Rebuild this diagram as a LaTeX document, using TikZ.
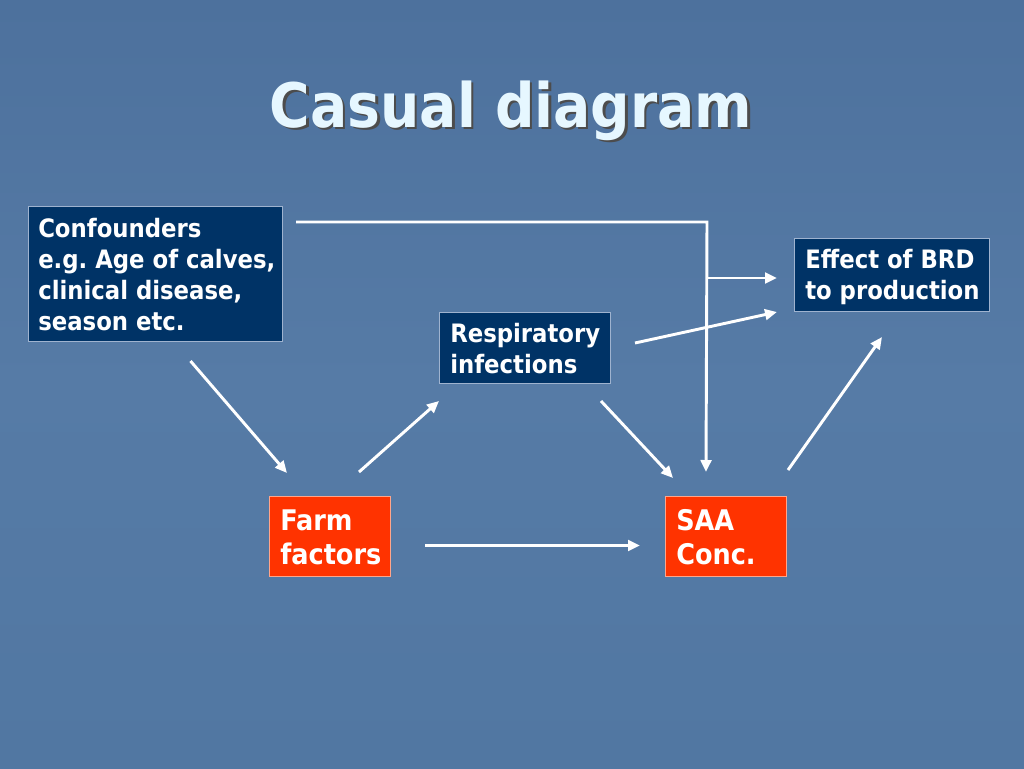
\documentclass[tikz,border=0pt]{standalone}
\usepackage{fontspec}
\setmainfont{DejaVu Sans Condensed}
\usetikzlibrary{calc,arrows.meta}
\frenchspacing
\definecolor{bgblue}{HTML}{567BA6}
\definecolor{bgtop}{HTML}{4D719D}
\definecolor{bgbot}{HTML}{5177A2}
\definecolor{navy}{HTML}{003366}
\definecolor{navyedge}{HTML}{9FB3CF}
\definecolor{orangered}{HTML}{FF3300}
\definecolor{orangeedge}{HTML}{FFA58A}
\definecolor{titlecol}{HTML}{E6F7FF}
\tikzset{
  navybox/.style={draw=navyedge, line width=0.75pt, fill=navy, anchor=north west, inner sep=0pt},
  redbox/.style={draw=orangeedge, line width=0.75pt, fill=orangered, anchor=north west, inner sep=0pt},
  navytext/.style={text=white, anchor=west, align=left, inner sep=0pt,
    font=\fontsize{19}{23.25}\selectfont\bfseries},
  redtext/.style={text=white, anchor=west, align=left, inner sep=0pt,
    font=\fontsize{21.3}{25.5}\selectfont\bfseries},
  link/.style={draw=white, line width=2.2pt, -{Triangle[length=9pt,width=8pt]}}
}
\newcommand{\shadowed}[1]{\makebox[0pt][l]{\hspace{1.9pt}\raisebox{-1.9pt}{\color{black!70}#1}}#1}
\begin{document}
\begin{tikzpicture}[x=0.75pt,y=-0.75pt]
\useasboundingbox (0,0) rectangle (1024,768);
\shade[top color=bgtop, bottom color=bgbot, middle color=bgblue] (0,0) rectangle (1024,768);
% title
\node[text=titlecol, font=\fontsize{46}{56}\selectfont\bfseries] (title) at (511,112) {\shadowed{Casual diagram}};
% boxes
\node[navybox, minimum width=254*0.75pt, minimum height=135*0.75pt] (conf) at (28,206) {};
\node[navytext] (conft) at ($(conf.west)+(10,1)$) {Confounders\\e.g. Age of calves,\\clinical disease,\\season etc.};
\node[navybox, minimum width=171*0.75pt, minimum height=71*0.75pt] (resp) at (439,312) {};
\node[navytext] (respt) at ($(resp.west)+(11,1)$) {Respiratory\\infections};
\node[navybox, minimum width=195*0.75pt, minimum height=73*0.75pt] (eff) at (794,238) {};
\node[navytext] (efft) at ($(eff.west)+(11,2)$) {Effect of BRD\\to production};
\node[redbox, minimum width=121*0.75pt, minimum height=80*0.75pt] (farm) at (269,496) {};
\node[redtext] (farmt) at ($(farm.west)+(11,1)$) {Farm\\factors};
\node[redbox, minimum width=121*0.75pt, minimum height=80*0.75pt] (saa) at (665,496) {};
\node[redtext] (saat) at ($(saa.west)+(11,1)$) {SAA\\Conc.};
% connectors
\draw[link] ($(conf.south)+(35,19)$) -- ($(farm.north west)+(18,-23)$);
\draw[link] ($(farm.north west)+(90,-24)$) -- ($(resp.south west)+(0,17)$);
\draw[link] ($(resp.south east)+(-10,17)$) -- ($(saa.north west)+(8,-18)$);
\draw[link] ($(farm.east)+(34,9)$) -- ($(saa.west)+(-25,9)$);
\draw[link] ($(saa.north east)+(1,-26)$) -- ($(eff.south west)+(88,25)$);
\draw[link] ($(resp.east)+(24,-5)$) -- ($(eff.south west)+(-17,0)$);
\coordinate (corner) at ($(conf.north east)+(424,16)$);
\coordinate (branch) at ($(corner)+(0,56)$);
\draw[link] ($(conf.north east)+(13,16)$) -- (corner) -- ($(saa.north west)+(41,-24)$);
\draw[link] (branch) -- ($(eff.west)+(-17,3)$);
\end{tikzpicture}
\end{document}
